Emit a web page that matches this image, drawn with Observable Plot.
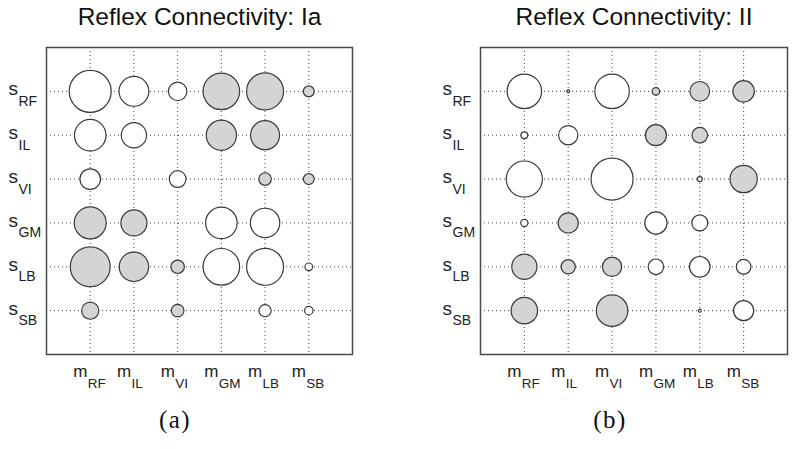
<!DOCTYPE html>
<html><head><meta charset="utf-8">
<script src="https://cdn.jsdelivr.net/npm/d3@7"></script>
<script src="https://cdn.jsdelivr.net/npm/@observablehq/plot@0.6"></script>
<style>
body{margin:0;background:#fff;width:796px;height:449px;position:relative;overflow:hidden;font-family:"Liberation Sans",Arial,sans-serif}
.panel{position:absolute;top:0}
.title{position:absolute;top:5px;font-size:24.5px;line-height:24.5px;color:#111;white-space:nowrap;transform:translateX(-50%)}
.cap{position:absolute;top:407px;font-family:"Liberation Serif",serif;font-size:25px;line-height:25px;letter-spacing:1.5px;color:#111;white-space:nowrap;transform:translateX(-50%)}
</style></head><body>
<div class="title" style="left:199.5px">Reflex Connectivity: Ia</div>
<div class="title" style="left:634px">Reflex Connectivity: II</div>
<div id="pa" class="panel" style="left:0px"></div>
<div id="pb" class="panel" style="left:400px"></div>
<div class="cap" style="left:175px">(a)</div>
<div class="cap" style="left:610px">(b)</div>
<script>
// muscles (rows: sensory s_*, columns: motor m_*)
const muscles = ["RF", "IL", "VI", "GM", "LB", "SB"];
// connection weights; sign: positive = open circle, negative = grey circle
const ia = [
  [ 1.00,  0.71,  0.44, -0.87, -0.88, -0.26],
  [ 0.75,  0.60,  0.00, -0.72, -0.69,  0.00],
  [ 0.49,  0.00,  0.40,  0.00, -0.30, -0.26],
  [-0.76, -0.62,  0.00,  0.75,  0.70,  0.00],
  [-0.95, -0.70, -0.32,  0.87,  0.88,  0.18],
  [-0.41,  0.00, -0.30,  0.00,  0.29,  0.20]
];
const ii = [
  [ 0.82, -0.07,  0.82, -0.18, -0.47, -0.51],
  [ 0.16,  0.46,  0.00, -0.50, -0.37,  0.00],
  [ 0.86,  0.00,  1.00,  0.00,  0.12, -0.65],
  [ 0.17, -0.48,  0.00,  0.53,  0.38,  0.00],
  [-0.60, -0.34, -0.46,  0.37,  0.49,  0.35],
  [-0.63,  0.00, -0.75,  0.00,  0.07,  0.48]
];

function panel(matrix, marginLeft, marginRight, width) {
  const cells = [];
  matrix.forEach((row, i) => row.forEach((w, j) => {
    if (w !== 0) cells.push({s: muscles[i], m: muscles[j], row: i + 1, col: j + 1, w, a: Math.abs(w)});
  }));
  const idx = muscles.map((d, i) => ({name: d, k: i + 1}));
  const font = "Liberation Sans, Arial, sans-serif";
  return Plot.plot({
    width, height: 400,
    marginLeft, marginRight, marginTop: 47, marginBottom: 46,
    x: {domain: [0, 7], axis: null},
    y: {domain: [0, 7], reverse: true, axis: null},
    r: {type: "linear", domain: [0, 1], range: [0, 21]},
    style: {fontFamily: font, background: "transparent", overflow: "visible"},
    marks: [
      Plot.ruleX(idx, {x: "k", stroke: "#444", strokeWidth: 1, strokeDasharray: "1,3"}),
      Plot.ruleY(idx, {y: "k", stroke: "#444", strokeWidth: 1, strokeDasharray: "1,3"}),
      Plot.dot(cells.filter(d => d.w > 0), {x: "col", y: "row", r: "a", fill: "white", stroke: "#3a3a3a", strokeWidth: 1.2}),
      Plot.dot(cells.filter(d => d.w < 0), {x: "col", y: "row", r: "a", fill: "#d4d4d4", stroke: "#3a3a3a", strokeWidth: 1.2}),
      Plot.frame({stroke: "#4a4a4a", strokeWidth: 1.5}),
      // y tick labels: s with subscript
      Plot.text(idx, {x: 0, y: "k", text: () => "s", textAnchor: "start", lineAnchor: "bottom", dx: -38, dy: 4, fontSize: 19, fill: "#222"}),
      Plot.text(idx, {x: 0, y: "k", text: "name", textAnchor: "start", lineAnchor: "bottom", dx: -28, dy: 14.5, fontSize: 14, fill: "#222"}),
      // x tick labels: m with subscript
      Plot.text(idx, {x: "k", y: 7, text: () => "m", textAnchor: "start", lineAnchor: "bottom", dx: -17, dy: 22, fontSize: 17, fill: "#222"}),
      Plot.text(idx, {x: "k", y: 7, text: "name", textAnchor: "start", lineAnchor: "bottom", dx: -2.5, dy: 33, fontSize: 13.5, fill: "#222"})
    ]
  });
}
document.getElementById("pa").append(panel(ia, 46, 46, 398));
document.getElementById("pb").append(panel(ii, 80, 9, 396));
</script>
</body></html>
